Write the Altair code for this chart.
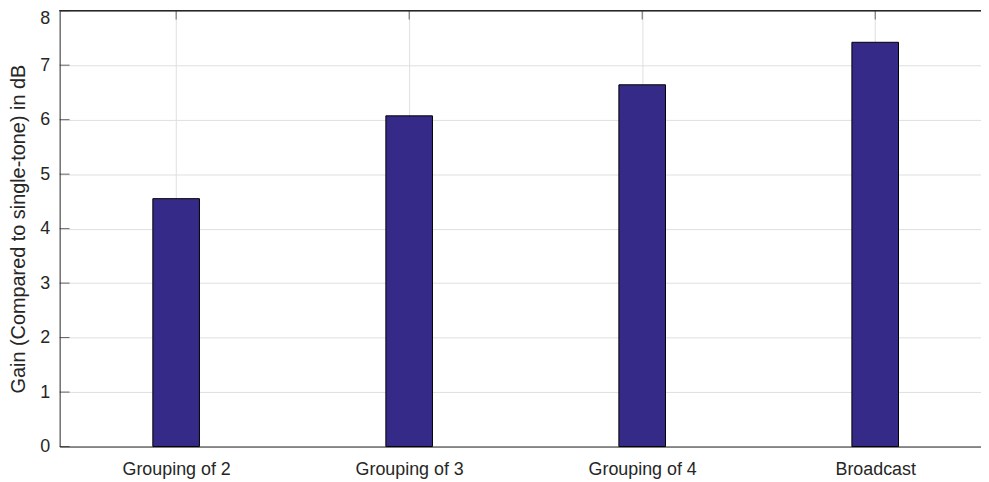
import altair as alt
import pandas as pd

categories = ["Grouping of 2", "Grouping of 3", "Grouping of 4", "Broadcast"]
gains = [4.55, 6.07, 6.64, 7.42]
positions = [1, 2, 3, 4]
y_ticks = [0, 1, 2, 3, 4, 5, 6, 7, 8]

W = 928
H = 439
FILL = "#352a87"
AX = "#262626"
GRID = "#dfdfdf"
FONT = "Liberation Sans"

df = pd.DataFrame({"cat": categories, "gain": gains, "pos": positions})
ydf = pd.DataFrame({"gain": y_ticks})
xdf = pd.DataFrame({"pos": positions})

label_expr = "[" + ",".join("'" + c + "'" for c in categories) + "][datum.value - 1]"

x_scale = alt.Scale(domain=[0.5, 4.454], nice=False, zero=False, padding=0)
y_scale = alt.Scale(domain=[0, 8], nice=False, zero=False, padding=0)

x_axis = alt.Axis(values=positions, labelExpr=label_expr, grid=True, gridColor=GRID,
                  gridWidth=1, ticks=False, domain=True, domainColor=AX, domainWidth=1,
                  title=None, labelPadding=14, labelFontSize=18, labelFont=FONT,
                  labelColor=AX, labelBaseline="top")
y_axis = alt.Axis(values=y_ticks, grid=True, gridColor=GRID, gridWidth=1, ticks=False,
                  domain=True, domainColor=AX, domainWidth=1,
                  title="Gain (Compared to single-tone) in dB", titleFontSize=20,
                  titleFont=FONT, titleFontWeight="normal", titleColor=AX,
                  titleX=-35, titleBaseline="alphabetic",
                  labelPadding=10, labelFontSize=18, labelFont=FONT, labelColor=AX,
                  labelOffset={"condition": {"test": "datum.value == 8", "value": 8}, "value": 0})

bars = alt.Chart(df).transform_calculate(
    x0="datum.pos - 0.1", x1="datum.pos + 0.1"
).mark_bar(color=FILL, stroke="black", strokeWidth=1).encode(
    x=alt.X("x0:Q", scale=x_scale, axis=x_axis),
    x2="x1:Q",
    y=alt.Y("gain:Q", scale=y_scale, axis=y_axis),
    y2=alt.datum(0),
)

yticks = alt.Chart(ydf).mark_tick(orient="horizontal", color=AX, thickness=1, size=10).encode(
    y=alt.Y("gain:Q", scale=y_scale, axis=y_axis),
    x=alt.value(5),
)

xticks = alt.Chart(xdf).mark_tick(orient="vertical", color=AX, thickness=1, size=9).encode(
    x=alt.X("pos:Q", scale=x_scale, axis=x_axis),
    y=alt.value(4.5),
)

top = alt.Chart(xdf).mark_rule(color=AX, strokeWidth=1).encode(
    x=alt.value(0), x2=alt.value(W), y=alt.value(0)
)

chart = alt.layer(bars, yticks, xticks, top).properties(
    width=W, height=H,
    autosize=alt.AutoSizeParams(type="none"),
    padding={"left": 52, "top": 1, "right": 0, "bottom": 34},
).configure_view(stroke=None)

chart.save("out.html", embed_options={"renderer": "svg", "actions": False})
